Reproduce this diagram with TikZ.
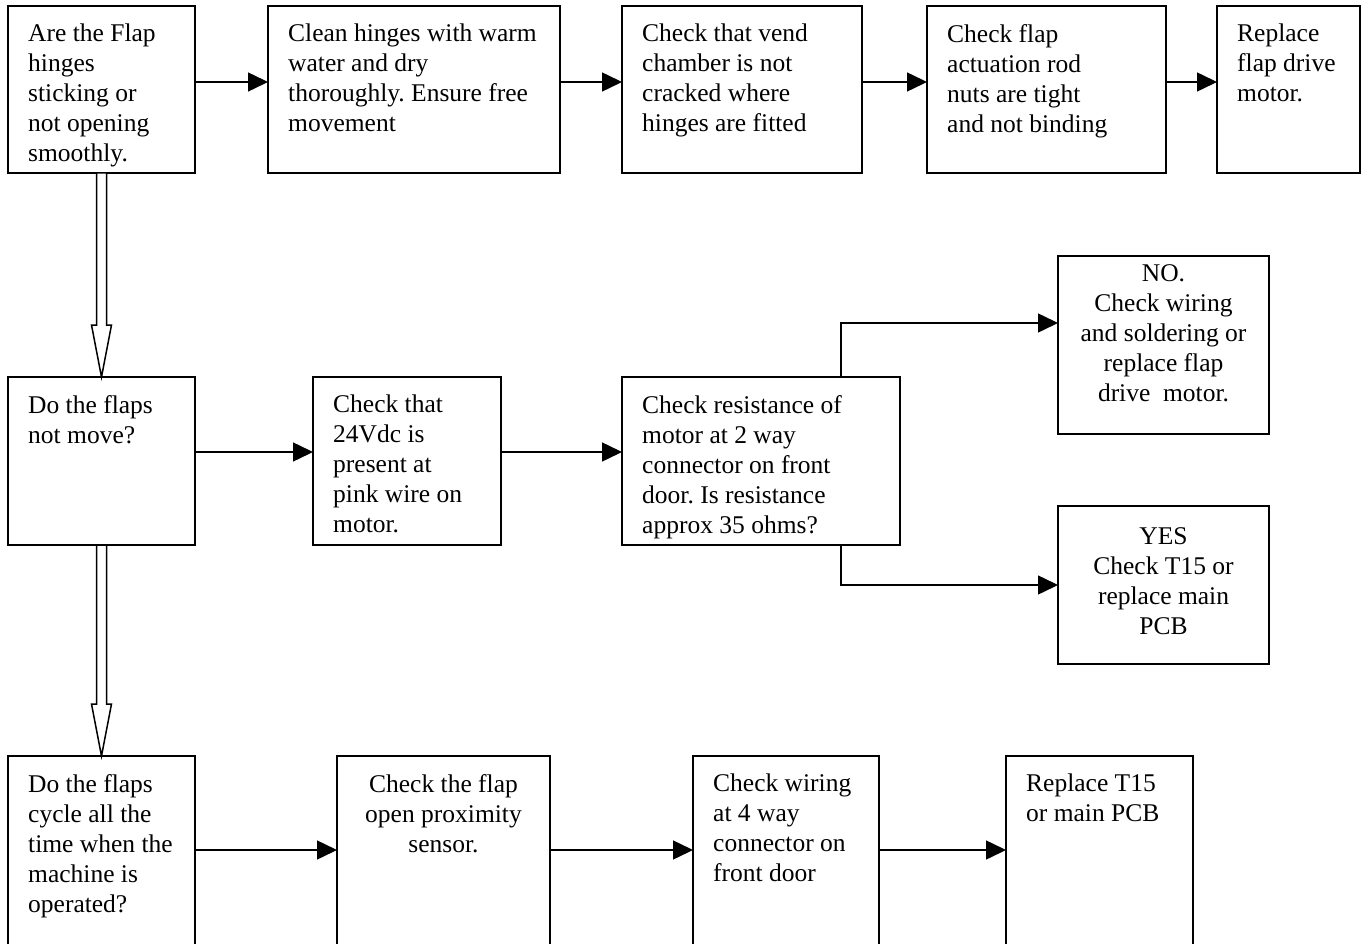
\documentclass[tikz,border=0pt]{standalone}
\usepackage{fontspec}
\setmainfont{Liberation Serif}
\usetikzlibrary{arrows.meta,calc}
\frenchspacing
\tikzset{
	stepbox/.style 2 args={draw, line width=1.5pt, anchor=north west, inner sep=0pt, outer sep=0pt, minimum width=#1, minimum height=#2},
	lefttext/.style={label={[draw=none, anchor=north west, align=left, inner sep=0pt, minimum size=0pt, xshift=20pt, yshift=-18pt]north west:{#1}}},
	midtext/.style 2 args={label={[draw=none, anchor=north, align=center, inner sep=0pt, minimum size=0pt, yshift=-#1]north:{#2}}},
	flow/.style={line width=1.5pt, -{Triangle[length=20pt,width=19pt]}},
	hollow/.style={line width=1.5pt, line join=miter, fill=white},
}
\begin{document}
\begin{tikzpicture}[x=1pt, y=-1pt, font=\fontsize{25.5}{30}\selectfont]
	\useasboundingbox (0,0) rectangle (1368,944);
	% top row
	\node[stepbox={187}{167}, lefttext={Are the Flap\\hinges\\sticking or\\not opening\\smoothly.}] (hinges) at (8,6) {};
	\node[stepbox={292}{167}, lefttext={Clean hinges with warm\\water and dry\\thoroughly. Ensure free\\movement}] (clean) at (268,6) {};
	\node[stepbox={240}{167}, lefttext={Check that vend\\chamber is not\\cracked where\\hinges are fitted}] (vendchk) at (622,6) {};
	\node[stepbox={239}{167}, lefttext={Check flap\\actuation rod\\nuts are tight\\and not binding}] (rodnuts) at (927,6) {};
	\node[stepbox={143}{167}, lefttext={Replace\\flap drive\\motor.}] (newmotor) at (1217,6) {};
	% middle row
	\node[stepbox={187}{168}, lefttext={Do the flaps\\not move?}] (nomove) at (8,377) {};
	\node[stepbox={188}{168}, lefttext={Check that\\24Vdc is\\present at\\pink wire on\\motor.}] (supply) at (313,377) {};
	\node[stepbox={278}{168}, lefttext={Check resistance of\\motor at 2 way\\connector on front\\door. Is resistance\\approx 35 ohms?}] (resist) at (622,377) {};
	\node[stepbox={211}{178}, midtext={8pt}{NO.\\Check wiring\\and soldering or\\replace flap\\drive\ \ motor.}] (nores) at (1058,256) {};
	\node[stepbox={211}{158}, midtext={21pt}{YES\\Check T15 or\\replace main\\PCB}] (yesres) at (1058,506) {};
	% bottom row
	\node[stepbox={187}{200}, lefttext={Do the flaps\\cycle all the\\time when the\\machine is\\operated?}] (cycling) at (8,756) {};
	\node[stepbox={213}{200}, midtext={18pt}{Check the flap\\open proximity\\sensor.}] (sensor) at (337,756) {};
	\node[stepbox={186}{200}, lefttext={Check wiring\\at 4 way\\connector on\\front door}] (wiring) at (693,756) {};
	\node[stepbox={187}{200}, lefttext={Replace T15\\or main PCB}] (mainpcb) at (1006,756) {};
	% connectors
	\draw[flow] ([yshift=7.5pt]hinges.east) -- ([yshift=7.5pt]clean.west);
	\draw[flow] ([yshift=7.5pt]clean.east) -- ([yshift=7.5pt]vendchk.west);
	\draw[flow] ([yshift=7.5pt]vendchk.east) -- ([yshift=7.5pt]rodnuts.west);
	\draw[flow] ([yshift=7.5pt]rodnuts.east) -- ([yshift=7.5pt]newmotor.west);
	\draw[flow] ([yshift=9pt]nomove.east) -- ([yshift=9pt]supply.west);
	\draw[flow] ([yshift=9pt]supply.east) -- ([yshift=9pt]resist.west);
	\draw[flow] ([xshift=80pt]resist.north) |- ([yshift=22pt]nores.west);
	\draw[flow] ([xshift=80pt]resist.south) |- (yesres.west);
	\draw[flow] ([yshift=6pt]cycling.east) -- ([yshift=6pt]sensor.west);
	\draw[flow] ([yshift=6pt]sensor.east) -- ([yshift=6pt]wiring.west);
	\draw[flow] ([yshift=6pt]wiring.east) -- ([yshift=6pt]mainpcb.west);
	% hollow arrows down the left
	\draw[hollow] ($(hinges.south)+(-5,0)$) -- ($(nomove.north)+(-5,-52)$) -- ++(-5,0) -- (nomove.north)
	-- ($(nomove.north)+(10,-52)$) -- ++(-5,0) -- ($(hinges.south)+(5,0)$) -- cycle;
	\draw[hollow] ($(nomove.south)+(-5,0)$) -- ($(cycling.north)+(-5,-52)$) -- ++(-5,0) -- (cycling.north)
	-- ($(cycling.north)+(10,-52)$) -- ++(-5,0) -- ($(nomove.south)+(5,0)$) -- cycle;
\end{tikzpicture}
\end{document}
